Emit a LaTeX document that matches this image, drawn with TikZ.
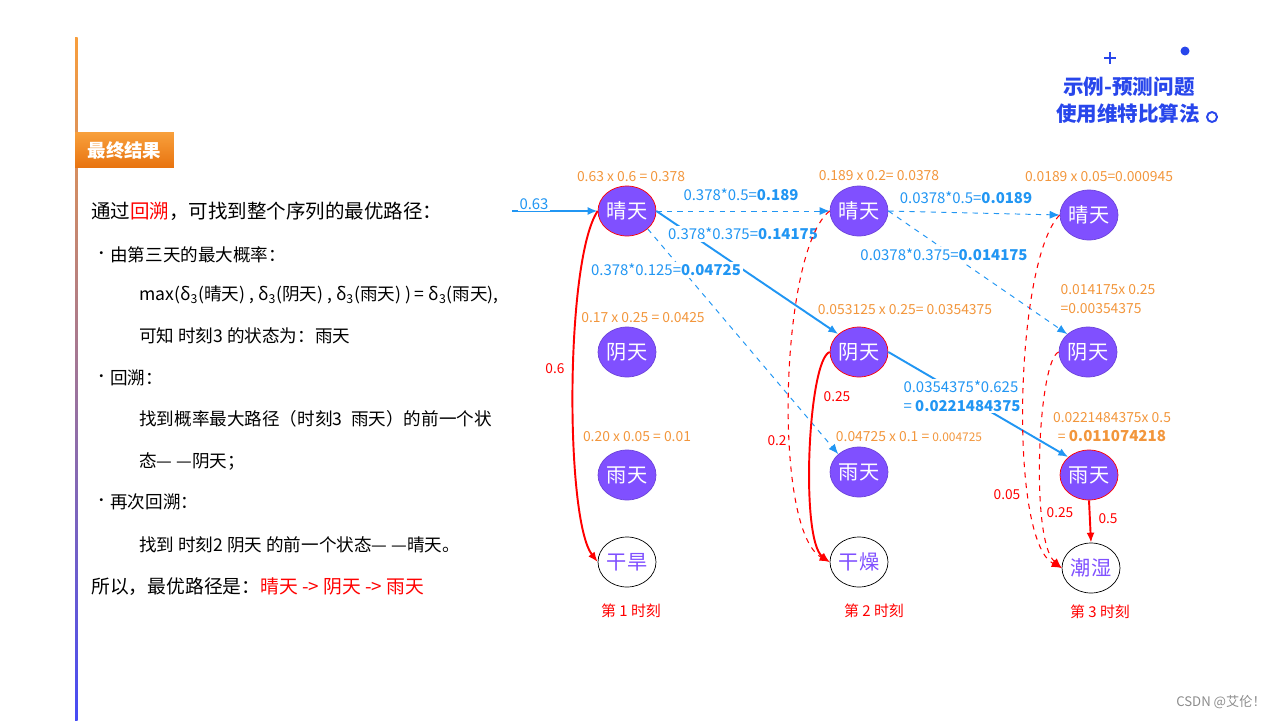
\documentclass[tikz,border=0pt]{standalone}
\usepackage{fontspec}
\setmainfont{Noto Sans CJK SC}
\usetikzlibrary{shapes.geometric, arrows.meta}

\definecolor{statepurple}{RGB}{128,80,255}
\definecolor{calcorange}{RGB}{242,150,60}
\definecolor{probblue}{RGB}{33,150,243}
\definecolor{headblue}{RGB}{40,70,235}
\definecolor{bartop}{RGB}{248,158,60}
\definecolor{barmid}{RGB}{190,125,200}
\definecolor{barbottom}{RGB}{70,75,245}
\definecolor{titletop}{RGB}{248,160,60}
\definecolor{titlebottom}{RGB}{232,115,15}

\tikzset{
    state/.style={ellipse, fill=statepurple, draw=statepurple!85!black, minimum width=1.16cm, minimum height=1cm, inner sep=0pt, text=white, font=\fontsize{11.5}{12}\selectfont},
    best/.style={state, draw=red},
    obs/.style={ellipse, fill=white, draw=black, minimum width=1.16cm, minimum height=1cm, inner sep=0pt, text=statepurple, font=\fontsize{11.5}{12}\selectfont},
    calc/.style={text=calcorange, inner sep=1pt, font=\fontsize{7.9}{10.5}\selectfont},
    prob/.style={text=probblue, fill=white, inner sep=1pt, font=\fontsize{8.5}{10.5}\selectfont},
    emit/.style={text=red, inner sep=1pt, font=\fontsize{7.8}{9}\selectfont},
    bluesolid/.style={draw=probblue, line width=1.1pt, -{Latex[length=2mm,width=1.6mm]}},
    bluedash/.style={draw=probblue, line width=0.55pt, dashed, -{Latex[length=2mm,width=1.6mm]}},
    redsolid/.style={draw=red, line width=1.1pt, -{Latex[length=2mm,width=1.6mm]}},
    reddash/.style={draw=red, line width=0.6pt, dashed, -{Latex[length=2mm,width=1.6mm]}},
    bodybig/.style={anchor=west, inner sep=0pt, font=\fontsize{11.1}{13}\selectfont},
    bodysmall/.style={anchor=west, inner sep=0pt, font=\fontsize{10}{12}\selectfont},
    titlebox/.style={top color=titletop, bottom color=titlebottom, minimum width=1.98cm, minimum height=0.72cm, inner sep=0pt, text=white, font=\bfseries\fontsize{10.5}{12}\selectfont},
    headline/.style={text=headblue, inner sep=0pt, font=\bfseries\fontsize{11.7}{13}\selectfont},
    watermark/.style={text=black!45, inner sep=0pt, font=\fontsize{7.5}{9}\selectfont}
}

\begin{document}
\begin{tikzpicture}[x=0.02cm, y=-0.02cm]
    \useasboundingbox (0,0) rectangle (1280,720);

    % left bar and title
    \shade[top color=bartop, middle color=barmid, bottom color=barbottom] (75,37) rectangle (77.5,720);
    \node[titlebox] (title) at (124.5,150) {最终结果};

    \node[bodybig] (line1) at (91,211) {通过{\color{red}回溯}，可找到整个序列的最优路径：};
    \node[bodysmall, font=\fontsize{8}{10}\selectfont] (dot1) at (94,255) {•};
    \node[bodysmall] (line2) at (110,255) {由第三天的最大概率：};
    \node[bodysmall] (line3) at (139,295) {max(δ\textsubscript{3}(晴天) , δ\textsubscript{3}(阴天) , δ\textsubscript{3}(雨天) ) = δ\textsubscript{3}(雨天),};
    \node[bodysmall] (line4) at (139,336) {可知 时刻3 的状态为：雨天};
    \node[bodysmall, font=\fontsize{8}{10}\selectfont] (dot2) at (94,378) {•};
    \node[bodysmall] (line5) at (110,378) {回溯：};
    \node[bodysmall] (line6) at (139,419) {找到概率最大路径（时刻3\enspace 雨天）的前一个状};
    \node[bodysmall] (line7) at (139,461) {态— —阴天；};
    \node[bodysmall, font=\fontsize{8}{10}\selectfont] (dot3) at (94,502) {•};
    \node[bodysmall] (line8) at (110,502) {再次回溯：};
    \node[bodysmall] (line9) at (139,545) {找到 时刻2 阴天 的前一个状态— —晴天。};
    \node[bodybig, font=\fontsize{10.7}{13}\selectfont] (line10) at (91,587) {所以，最优路径是：{\color{red}晴天 -> 阴天 -> 雨天}};

    % states
    \node[best] (sun1) at (627,211) {晴天};
    \node[state] (cloud1) at (627,352) {阴天};
    \node[state] (rain1) at (627,475) {雨天};
    \node[obs] (obs1) at (627,562) {干旱};

    \node[state] (sun2) at (859,211) {晴天};
    \node[best] (cloud2) at (859,352) {阴天};
    \node[state] (rain2) at (859,472) {雨天};
    \node[obs] (obs2) at (859,562) {干燥};

    \node[state] (sun3) at (1089,215) {晴天};
    \node[state] (cloud3) at (1088,352) {阴天};
    \node[best] (rain3) at (1089,475) {雨天};
    \node[obs] (obs3) at (1091,568) {潮湿};

    % transitions
    \coordinate (in0) at (512,211);
    \draw[bluesolid] (in0) -- (sun1.west);
    \draw[bluedash] (sun1.east) -- (sun2.west);
    \draw[bluesolid] (sun1.east) -- (cloud2.north west);
    \draw[bluedash] (sun1.south east) -- (rain2.north west);
    \draw[bluedash] (sun2.east) -- (sun3.west);
    \draw[bluedash] (sun2.east) -- (cloud3.north west);
    \draw[bluesolid] (cloud2.east) -- (rain3.north west);

    \node[prob] (p0) at (534,204) {0.63};
    \node[prob] (p1) at (741,195) {0.378*0.5=\textbf{0.189}};
    \node[prob] (p2) at (743,234) {0.378*0.375=\textbf{0.14175}};
    \node[prob] (p3) at (666,270) {0.378*0.125=\textbf{0.04725}};
    \node[prob] (p4) at (966,198) {0.0378*0.5=\textbf{0.0189}};
    \node[prob] (p5) at (944,255) {0.0378*0.375=\textbf{0.014175}};
    \node[prob, align=left] (p6) at (962,396) {0.0354375*0.625\\= \textbf{0.0221484375}};

    % emissions
    \draw[redsolid] (sun1.west) .. controls (565,260) and (565,520) .. (obs1.west);
    \draw[reddash] (sun2.west) .. controls (780,250) and (772,530) .. (obs2.west);
    \draw[redsolid] (cloud2.west) .. controls (808,360) and (800,540) .. (obs2.west);
    \draw[reddash] (sun3.west) .. controls (1015,260) and (1008,540) .. (obs3.west);
    \draw[reddash] (cloud3.west) .. controls (1038,360) and (1030,540) .. (obs3.west);
    \draw[redsolid] (rain3.south) -- (obs3.north);

    \node[emit] (e1) at (555,369) {0.6};
    \node[emit] (e2) at (837,397) {0.25};
    \node[emit] (e3) at (777,441) {0.2};
    \node[emit] (e4) at (1007,495) {0.05};
    \node[emit] (e5) at (1060,513) {0.25};
    \node[emit] (e6) at (1108,519) {0.5};

    % products
    \node[calc] (c1) at (631,177) {0.63 x 0.6 = 0.378};
    \node[calc] (c2) at (643,318) {0.17 x 0.25 = 0.0425};
    \node[calc] (c3) at (637,437) {0.20 x 0.05 = 0.01};
    \node[calc] (c4) at (879,176) {0.189 x 0.2= 0.0378};
    \node[calc] (c5) at (905,310) {0.053125 x 0.25= 0.0354375};
    \node[calc] (c6) at (909,437) {0.04725 x 0.1 = {\fontsize{6.8}{8}\selectfont 0.004725}};
    \node[calc] (c7) at (1099,177) {0.0189 x 0.05=0.000945};
    \node[calc, align=left] (c8) at (1108,299) {0.014175x 0.25\\=0.00354375};
    \node[calc, align=center] (c9) at (1112,427) {0.0221484375x 0.5\\= {\fontsize{8.6}{10}\selectfont\textbf{0.011074218}}};

    \node[emit, font=\fontsize{8.5}{10}\selectfont] (t1) at (631,611) {第 1 时刻};
    \node[emit, font=\fontsize{8.5}{10}\selectfont] (t2) at (874,611) {第 2 时刻};
    \node[emit, font=\fontsize{8.5}{10}\selectfont] (t3) at (1100,612) {第 3 时刻};

    % heading top right
    \node[headline] (head1) at (1129,87) {示例-预测问题};
    \node[headline] (head2) at (1128,114) {使用维特比算法};
    \draw[headblue, line width=0.8pt] (1104,58) -- (1116,58) (1110,52) -- (1110,64);
    \fill[headblue] (1185,51) circle (0.09cm);
    \draw[headblue, line width=1.1pt] (1212,117) circle (0.1cm);

    \node[watermark] (csdn) at (1221,702) {CSDN @艾伦！};
\end{tikzpicture}
\end{document}
